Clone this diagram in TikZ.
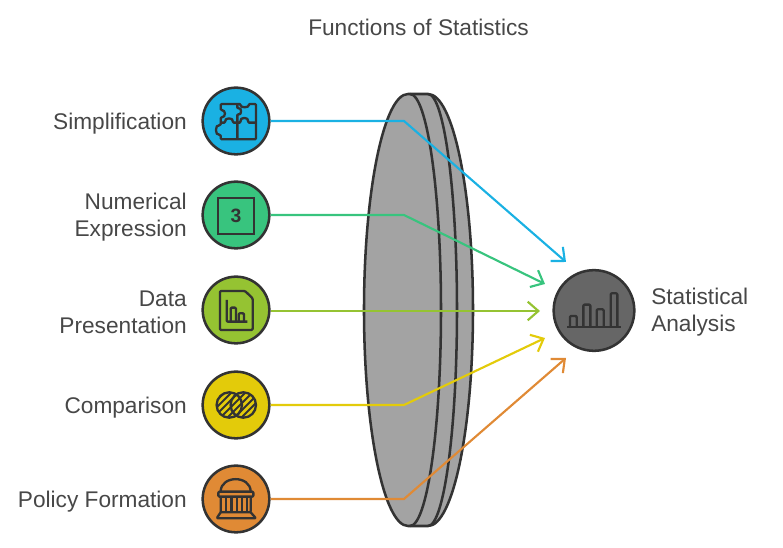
\documentclass[tikz,border=0pt]{standalone}
\usepackage{fontspec}
\setmainfont{Liberation Sans}
\usepackage{xcolor}
\usetikzlibrary{arrows.meta,positioning,calc}
\definecolor{inkc}{HTML}{333333}
\definecolor{textc}{HTML}{474747}
\definecolor{lensc}{HTML}{A3A3A3}
\definecolor{simpc}{HTML}{1AB1E3}
\definecolor{numc}{HTML}{38C47E}
\definecolor{datac}{HTML}{95C332}
\definecolor{compc}{HTML}{E3CB0A}
\definecolor{polc}{HTML}{E08A35}
\definecolor{statc}{HTML}{666666}

\begin{document}
\begin{tikzpicture}[x=0.75pt,y=-0.75pt,
    lbl/.style={text=textc,inner sep=0pt,font=\fontsize{17}{20.25}\selectfont},
    badge/.style={circle,draw=inkc,line width=1.9pt,minimum size=50pt,inner sep=0pt},
    link/.style={line width=1.6pt,-{Straight Barb[length=8pt,width=14pt,line width=1.6pt]}},
    icon/.style={draw=inkc,line width=1.75pt,line join=round,rounded corners=0.8pt}]
    \useasboundingbox (0,0) rectangle (783,548);

    % Title
    \node[lbl] (title) at (418.5,27) {Functions of Statistics};

    % Lens
    \draw[fill=lensc,draw=inkc,line width=1.9pt] (408,94)
        .. controls (384,94) and (364,191) .. (364,310)
        .. controls (364,429) and (384,526) .. (408,526) -- (428,526)
        .. controls (453,526) and (473,429) .. (473,310)
        .. controls (473,191) and (453,94) .. (428,94) -- cycle;
    \foreach \xt/\xa/\xm in {410/427/441,428/444/457} {
        \draw[draw=inkc,line width=1.9pt] (\xt,94)
            .. controls (\xa,94) and (\xm,191) .. (\xm,310)
            .. controls (\xm,429) and (\xa,526) .. (\xt,526);
    }

    % Left circles and their labels
    \foreach \name/\y/\ty/\col/\txt in {simp/121/123.5/simpc/Simplification,
        num/215/217.5/numc/Numerical\\Expression,
        data/310/312/datac/Data\\Presentation,
        comp/405/407.5/compc/Comparison,
        pol/499/501.5/polc/Policy Formation} {
        \node[badge,fill=\col] (\name) at (236,\y) {};
        \node[lbl,anchor=east,align=right] (\name label) at (187,\ty) {\txt};
    }

    % Right circle
    \node[badge,fill=statc,minimum size=60.5pt] (stat) at (594,310.5) {};
    \node[lbl,anchor=west,align=left] (stat label) at (651,312.5) {Statistical\\Analysis};

    % Connectors
    \coordinate (simp bend) at (404,121);
    \coordinate (simp tip) at (566,262);
    \coordinate (num bend) at (404,215);
    \coordinate (num tip) at (545,284);
    \coordinate (data tip) at (540,311);
    \coordinate (comp bend) at (404,405);
    \coordinate (comp tip) at (545,338);
    \coordinate (pol bend) at (404,499);
    \coordinate (pol tip) at (566,358);
    \draw[link,simpc] (simp) -- (simp bend) -- (simp tip);
    \draw[link,numc] (num) -- (num bend) -- (num tip);
    \draw[link,datac] (data.east |- data tip) -- (data tip);
    \draw[link,compc] (comp) -- (comp bend) -- (comp tip);
    \draw[link,polc] (pol) -- (pol bend) -- (pol tip);

    % Puzzle icon
    \begin{scope}[shift={(190,80)},x=0.25pt,y=-0.25pt]
        \draw[icon] (92,72) -- (152,72) .. controls (150,84) and (178,84) .. (176,72) -- (198,72)
            -- (198,178) -- (92,178) -- (92,164)
            .. controls (74,168) and (74,132) .. (92,136) -- (92,112)
            .. controls (108,112) and (108,90) .. (92,90) -- cycle;
        \draw[icon] (142,72) -- (142,86) .. controls (156,80) and (156,108) .. (142,102) -- (142,178);
        \draw[icon] (92,128) -- (106,128) .. controls (102,112) and (132,112) .. (128,128) -- (152,128)
            .. controls (148,110) and (178,110) .. (174,128) -- (198,128);
    \end{scope}

    % Number box icon
    \node[draw=inkc,line width=1.75pt,minimum size=27pt,inner sep=0pt,text=inkc,
        font=\fontsize{14.5}{15}\selectfont\bfseries] (num box) at (236,215.8) {3};

    % Document icon
    \begin{scope}[shift={(190,265)},x=0.25pt,y=-0.25pt]
        \draw[icon] (90,78) -- (165,78) -- (188,100) -- (188,195) -- (90,195) -- cycle;
        \draw[icon] (110,105) -- (110,170) -- (172,170);
        \draw[icon] (122,170) -- (122,128) -- (138,128) -- (138,170);
        \draw[icon] (146,170) -- (146,145) -- (162,145) -- (162,170);
    \end{scope}

    % Overlapping circles icon
    \begin{scope}
        \clip (229.3,405) circle [radius=12.7] (243.3,405) circle [radius=12.7];
        \foreach \d in {-24,-17,...,24} {
            \draw[inkc,line width=1.5pt] (236+\d-20,425) -- (236+\d+20,385);
        }
    \end{scope}
    \draw[icon] (229.3,405) circle [radius=12.7];
    \draw[icon] (243.3,405) circle [radius=12.7];

    % Temple icon
    \begin{scope}[shift={(190,455)},x=0.25pt,y=-0.25pt]
        \draw[icon] (92,110) .. controls (92,60) and (182,60) .. (182,110);
        \draw[icon] (85,110) -- (190,110) -- (190,125) -- (85,125) -- cycle;
        \draw[icon] (92,125) -- (92,172) -- (182,172) -- (182,125);
        \foreach \x in {108,124,140,156,170} {
            \draw[icon] (\x,125) -- (\x,172);
        }
        \draw[icon] (92,172) -- (80,190) -- (198,190) -- (182,172);
    \end{scope}

    % Bar chart icon
    \begin{scope}[shift={(530,240)},x=0.25pt,y=-0.25pt]
        \draw[icon] (112,262) -- (272,262);
        \foreach \xa/\xb/\yt in {120/140/228,160/181/194,200/221/208,242/262/160} {
            \draw[icon] (\xa,262) -- (\xa,\yt) -- (\xb,\yt) -- (\xb,262);
        }
    \end{scope}
\end{tikzpicture}
\end{document}
